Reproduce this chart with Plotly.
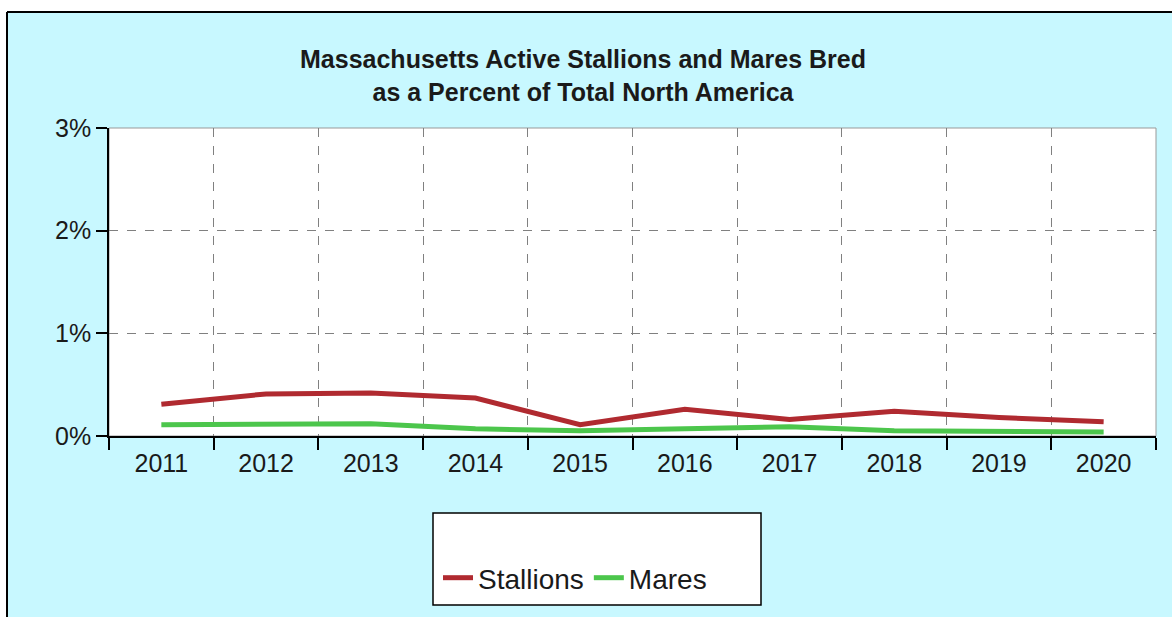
import plotly.graph_objects as go

years = ["2011", "2012", "2013", "2014", "2015", "2016", "2017", "2018", "2019", "2020"]
stallions = [0.31, 0.41, 0.42, 0.37, 0.11, 0.26, 0.16, 0.24, 0.18, 0.14]
mares = [0.11, 0.12, 0.12, 0.07, 0.05, 0.07, 0.09, 0.05, 0.04, 0.04]

W, H = 1172, 617
L, R, T, B = 109, 16, 128, 181
PW, PH = W - L - R, H - T - B

def px(x):
    return (x - L) / PW

def py(y):
    return (H - B - y) / PH

font = "Liberation Sans, Arial, sans-serif"

fig = go.Figure()
fig.add_trace(go.Scatter(x=years, y=stallions, mode="lines", name="Stallions",
                         line=dict(color="#B02A30", width=5)))
fig.add_trace(go.Scatter(x=years, y=mares, mode="lines", name="Mares",
                         line=dict(color="#4CC64C", width=5)))

shapes = [
    dict(type="rect", xref="paper", yref="paper", x0=px(-50), x1=px(W + 50), y0=py(12), y1=py(-50),
         fillcolor="white", line=dict(width=0), layer="below"),
    dict(type="rect", xref="paper", yref="paper", x0=px(-50), x1=px(7), y0=py(H + 50), y1=py(-50),
         fillcolor="white", line=dict(width=0), layer="below"),
    dict(type="line", xref="paper", yref="paper", x0=px(7), x1=px(W + 50), y0=py(12), y1=py(12),
         line=dict(color="black", width=2), layer="below"),
    dict(type="line", xref="paper", yref="paper", x0=px(7), x1=px(7), y0=py(12), y1=py(H + 50),
         line=dict(color="black", width=2), layer="below"),
    dict(type="rect", xref="paper", yref="paper", x0=0, x1=1, y0=0, y1=1,
         line=dict(color="#999999", width=1), layer="below"),
    dict(type="rect", xref="paper", yref="paper", x0=px(433), x1=px(761), y0=py(605), y1=py(513),
         fillcolor="white", line=dict(color="black", width=1.5), layer="below"),
]

fig.update_layout(
    width=W, height=H,
    margin=dict(l=L, r=R, t=T, b=B, pad=0),
    paper_bgcolor="#C8F8FF",
    plot_bgcolor="white",
    shapes=shapes,
    title=dict(text="<b>Massachusetts Active Stallions and Mares Bred<br>as a Percent of Total North America</b>",
               x=px(583), xref="paper", xanchor="center",
               y=1 - 68 / H, yref="container", yanchor="middle",
               font=dict(family=font, size=25, color="#1a1a1a")),
    font=dict(family=font, size=25, color="#1a1a1a"),
    showlegend=True,
    legend=dict(orientation="h", x=px(438), xanchor="left", y=py(578), yanchor="middle",
                bgcolor="rgba(0,0,0,0)", font=dict(family=font, size=28, color="#1a1a1a")),
    xaxis=dict(type="category", range=[-0.5, 9.5], tickson="boundaries", ticks="outside",
               ticklen=12, tickcolor="black", tickwidth=1.5, ticklabelstandoff=4,
               showline=True, linecolor="black", linewidth=1.5,
               showgrid=True, gridcolor="#808080", griddash="dash", gridwidth=1,
               tickfont=dict(family=font, size=25, color="#1a1a1a"), fixedrange=True),
    yaxis=dict(range=[0, 3], dtick=1, tick0=0, ticksuffix="%", ticks="outside",
               ticklen=11, tickcolor="black", tickwidth=1.5,
               showline=True, linecolor="black", linewidth=1.5,
               showgrid=True, gridcolor="#808080", griddash="dash", gridwidth=1,
               zeroline=False,
               tickfont=dict(family=font, size=25, color="#1a1a1a"), fixedrange=True),
)

fig.write_html("out.html", config={"displayModeBar": False},
               post_script="document.body.style.margin='0';")
